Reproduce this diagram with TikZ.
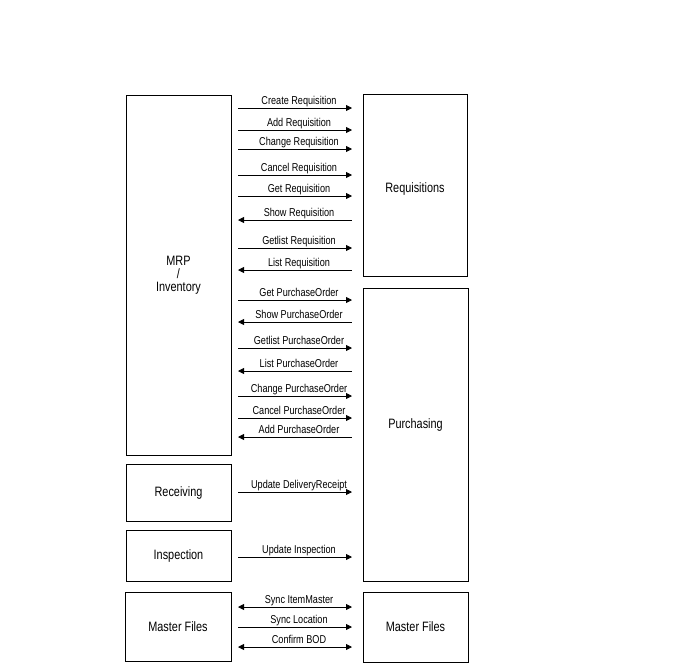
\documentclass[tikz,border=0pt]{standalone}
\usepackage{fontspec}
\setmainfont{Liberation Sans}
\newfontfamily\narrowfont[FakeStretch=0.8]{Liberation Sans}
\usetikzlibrary{arrows.meta}

\begin{document}
\begin{tikzpicture}[x=1pt,y=-1pt,
    box/.style={draw, line width=0.8pt, inner sep=0pt, outer sep=0pt,
        align=center, font=\narrowfont\fontsize{13.6}{13}\selectfont},
    fwd/.style={line width=0.8pt, -{Triangle[length=6pt,width=6pt]},
        shorten <=7pt, shorten >=11pt},
    back/.style={line width=0.8pt, {Triangle[length=6pt,width=6pt]}-,
        shorten <=7pt, shorten >=11pt},
    both/.style={line width=0.8pt,
        {Triangle[length=6pt,width=6pt]}-{Triangle[length=6pt,width=6pt]},
        shorten <=7pt, shorten >=11pt},
    lbl/.style={anchor=base, yshift=4pt, xshift=2pt, inner sep=0pt,
        font=\narrowfont\fontsize{11.4}{11}\selectfont}
]

\useasboundingbox (0,0) rectangle (684,665);

% Left column
\node[box, minimum width=105pt, minimum height=360pt] (mrp) at (178.5,275) {MRP\\/\\Inventory};
\node[box, minimum width=105pt, minimum height=57pt] (rcv) at (178.5,492.5) {Receiving};
\node[box, minimum width=105pt, minimum height=51pt] (insp) at (178.5,555.5) {Inspection};
\node[box, minimum width=106pt, minimum height=69pt] (mfl) at (178,626.5) {Master Files};

% Right column
\node[box, minimum width=104pt, minimum height=182pt,
    label={[font=\narrowfont\fontsize{13.6}{13}\selectfont, yshift=-4pt]center:Requisitions}] (req) at (415,185) {};
\node[box, minimum width=105pt, minimum height=293pt,
    label={[font=\narrowfont\fontsize{13.6}{13}\selectfont, yshift=10pt]center:Purchasing}] (pur) at (415.5,434.5) {};
\node[box, minimum width=105pt, minimum height=70pt] (mfr) at (415.5,627) {Master Files};

% Requisition messages
\draw[fwd] (mrp.east |- 0,108) -- node[lbl]{Create Requisition} (req.west |- 0,108);
\draw[fwd] (mrp.east |- 0,130) -- node[lbl]{Add Requisition} (req.west |- 0,130);
\draw[fwd] (mrp.east |- 0,149) -- node[lbl]{Change Requisition} (req.west |- 0,149);
\draw[fwd] (mrp.east |- 0,175) -- node[lbl]{Cancel Requisition} (req.west |- 0,175);
\draw[fwd] (mrp.east |- 0,196) -- node[lbl]{Get Requisition} (req.west |- 0,196);
\draw[back] (mrp.east |- 0,220) -- node[lbl]{Show Requisition} (req.west |- 0,220);
\draw[fwd] (mrp.east |- 0,248) -- node[lbl]{Getlist Requisition} (req.west |- 0,248);
\draw[back] (mrp.east |- 0,270) -- node[lbl]{List Requisition} (req.west |- 0,270);

% Purchase order messages
\draw[fwd] (mrp.east |- 0,300) -- node[lbl]{Get PurchaseOrder} (pur.west |- 0,300);
\draw[back] (mrp.east |- 0,322) -- node[lbl]{Show PurchaseOrder} (pur.west |- 0,322);
\draw[fwd] (mrp.east |- 0,348) -- node[lbl]{Getlist PurchaseOrder} (pur.west |- 0,348);
\draw[back] (mrp.east |- 0,371) -- node[lbl]{List PurchaseOrder} (pur.west |- 0,371);
\draw[fwd] (mrp.east |- 0,396) -- node[lbl]{Change PurchaseOrder} (pur.west |- 0,396);
\draw[fwd] (mrp.east |- 0,418) -- node[lbl]{Cancel PurchaseOrder} (pur.west |- 0,418);
\draw[back] (mrp.east |- 0,437) -- node[lbl]{Add PurchaseOrder} (pur.west |- 0,437);

% Receiving and inspection
\draw[fwd] (rcv.east |- 0,492) -- node[lbl]{Update DeliveryReceipt} (pur.west |- 0,492);
\draw[fwd] (insp.east |- 0,557) -- node[lbl]{Update Inspection} (pur.west |- 0,557);

% Master files
\draw[both] (mfl.east |- 0,607) -- node[lbl]{Sync ItemMaster} (mfr.west |- 0,607);
\draw[fwd] (mfl.east |- 0,627) -- node[lbl]{Sync Location} (mfr.west |- 0,627);
\draw[both] (mfl.east |- 0,647) -- node[lbl]{Confirm BOD} (mfr.west |- 0,647);

\end{tikzpicture}
\end{document}
